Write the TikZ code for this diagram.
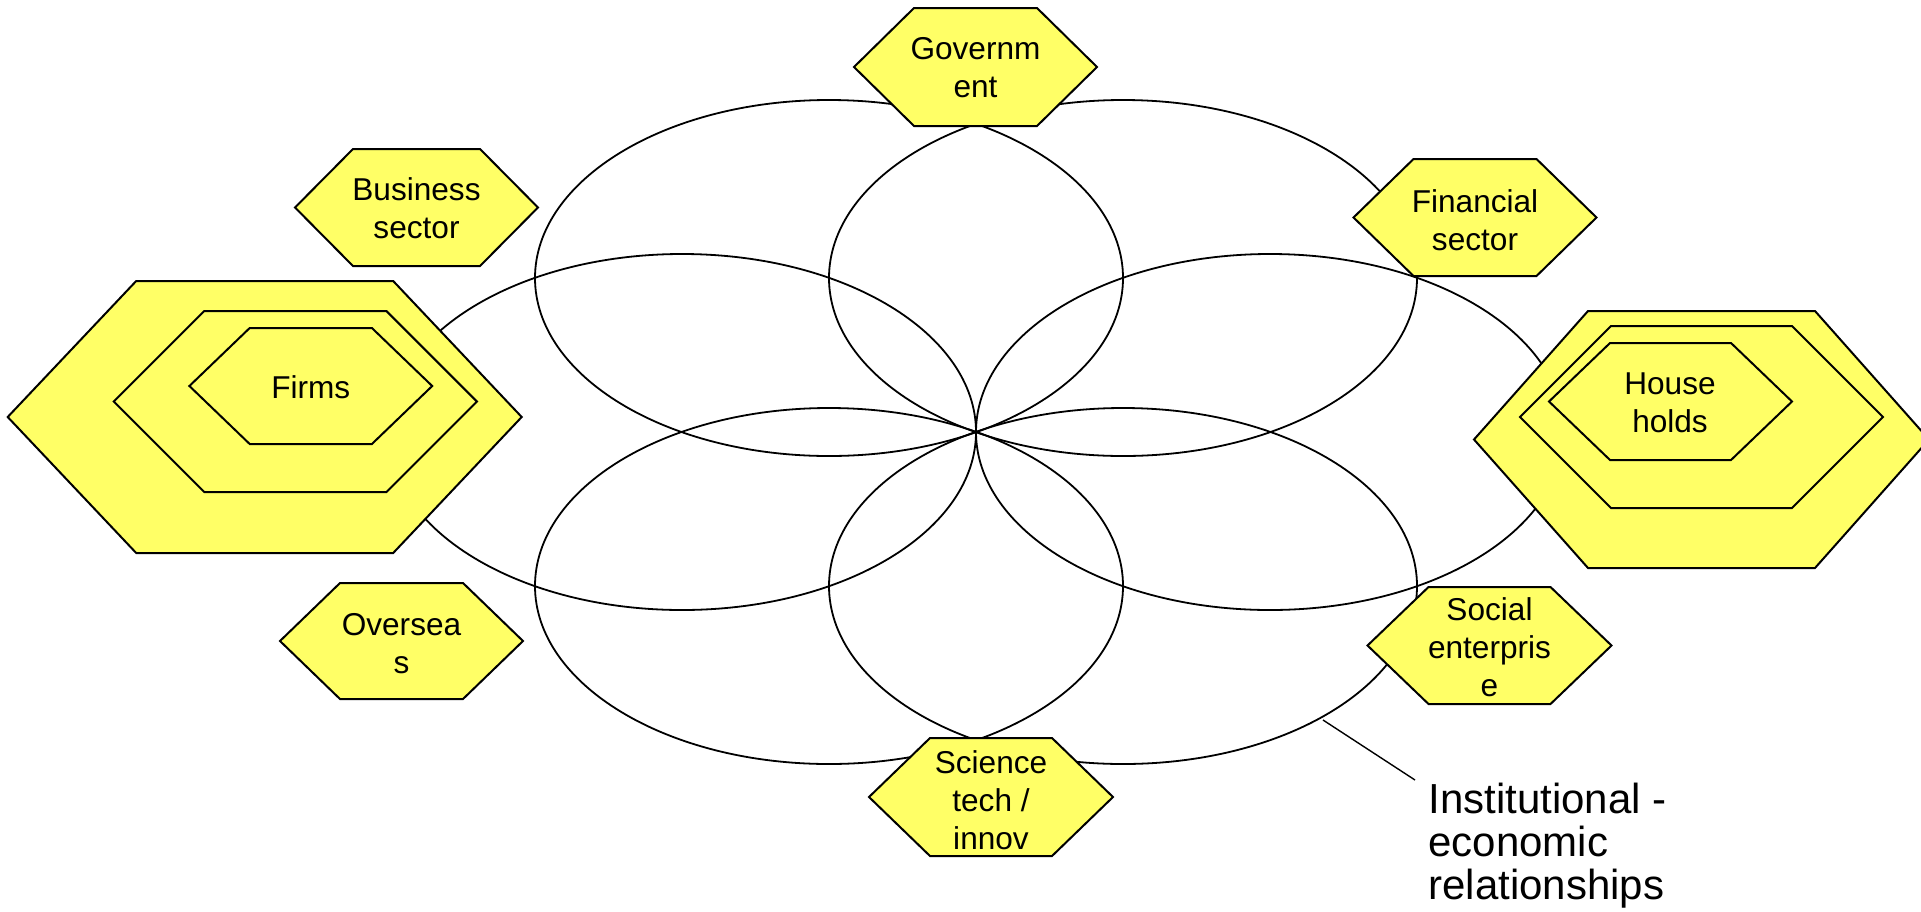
\documentclass[tikz,border=0pt]{standalone}
\usepackage{fontspec}
\setmainfont{Liberation Sans}
\usepackage{tikz}

\definecolor{hexyellow}{RGB}{255,255,102}

% centre x, centre y, half width, half height, slant
\newcommand{\hexcell}[5]{%
  \draw[hexline] ({#1-#3},{#2}) -- ({#1-#3+#5},{#2-#4}) -- ({#1+#3-#5},{#2-#4})
    -- ({#1+#3},{#2}) -- ({#1+#3-#5},{#2+#4}) -- ({#1-#3+#5},{#2+#4}) -- cycle;}

\tikzset{
  hexline/.style={draw=black, fill=hexyellow, line width=1pt, line join=miter},
  petal/.style={draw=black, line width=0.9pt},
  hexlabel/.style={align=center, inner sep=0pt, font=\fontsize{15.8}{19}\selectfont},
  notelabel/.style={align=left, inner sep=0pt, font=\fontsize{21}{21.5}\selectfont}
}

\begin{document}
\begin{tikzpicture}[x=0.5pt,y=-0.5pt]
    \useasboundingbox (0,0) rectangle (1921,911);

    \coordinate (O) at (976,432);
    \coordinate (lead) at (1323,720);
    \coordinate (leadend) at (1415,780);

    % six petals through O
    \foreach \cx/\cy in {682/432, 1270/432, 829/278, 1123/278, 829/586, 1123/586}
        \draw[petal] (\cx,\cy) ellipse [x radius=294, y radius=178];

    % small sectors
    \hexcell{975.5}{67}{121.5}{59}{60}      % government
    \hexcell{416.5}{207.5}{121.5}{58.5}{58} % business
    \hexcell{1475}{217.5}{121.5}{58.5}{60}  % financial
    \hexcell{401.5}{641}{121.5}{58}{60}     % overseas
    \hexcell{1489.5}{645.5}{122}{58.5}{61}  % social enterprise
    \hexcell{991}{797}{122}{59}{61}         % science

    % firms, nested
    \hexcell{264.7}{417}{257}{136}{128.5}
    \hexcell{295.3}{401.5}{181.6}{90.5}{90.5}
    \hexcell{310.8}{386}{121.4}{58}{60.3}

    % households, nested
    \hexcell{1701.5}{439.5}{227.5}{128.5}{114}
    \hexcell{1701.5}{417}{181.5}{91}{91}
    \hexcell{1670.5}{401.5}{121.5}{58.5}{61}

    \node[hexlabel] (gov) at (975.5,68) {Governm\\ent};
    \node[hexlabel] (bus) at (416.5,208) {Business\\sector};
    \node[hexlabel] (fin) at (1475,220) {Financial\\sector};
    \node[hexlabel] (over) at (401.5,644) {Oversea\\s};
    \node[hexlabel] (soc) at (1489.5,647.5) {Social\\enterpris\\e};
    \node[hexlabel] (sci) at (991,800) {Science\\tech /\\innov};
    \node[hexlabel] (firms) at (310.8,387) {Firms};
    \node[hexlabel] (house) at (1670,402.5) {House\\holds};

    \node[notelabel, anchor=north west] (inst) at (1428,783) {Institutional -\\economic\\relationships};
    \draw[line width=0.7pt] (lead) -- (leadend);

\end{tikzpicture}
\end{document}
